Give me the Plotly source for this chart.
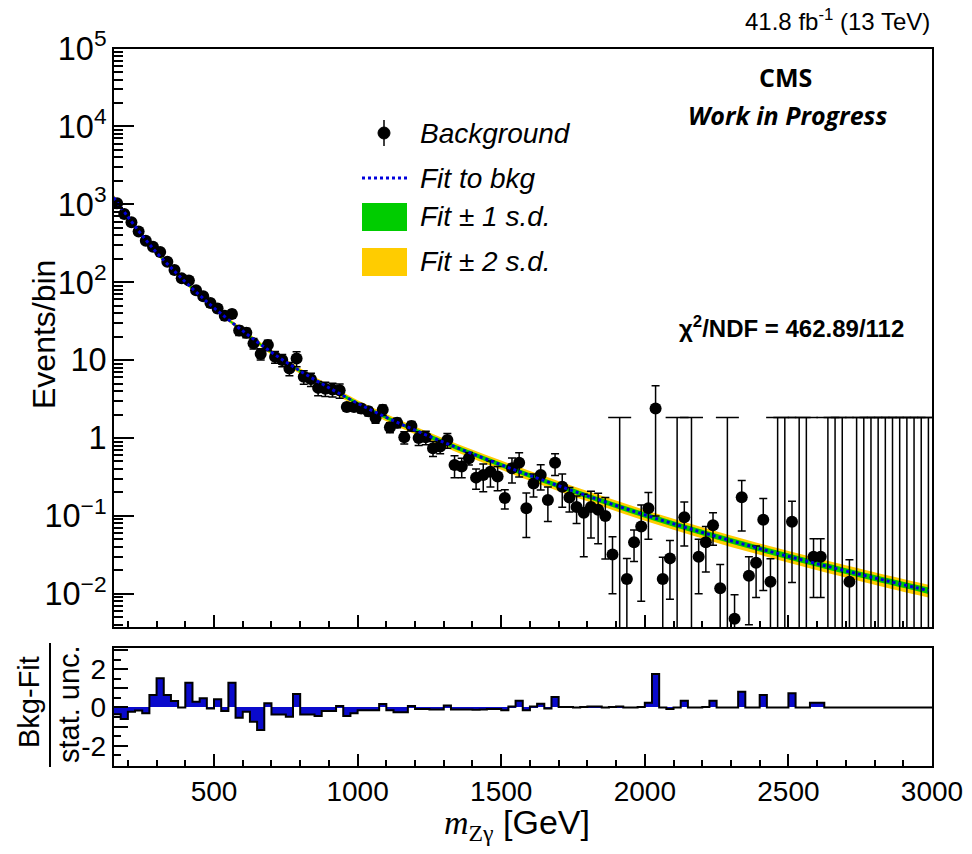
import plotly.graph_objects as go

W, H = 972, 854

# ---------------- data ----------------
bin_low, bin_high, bin_width = 150, 3000, 25
n_bins = (bin_high - bin_low) // bin_width
bin_edges = [bin_low + bin_width * i for i in range(n_bins + 1)]
bin_centers = [e + bin_width / 2 for e in bin_edges[:-1]]

events = [
    1030, 750, 590, 448, 340, 286, 245, 183, 143, 112,
    105, 79, 66, 54, 46, 37, 39, 24, 22.5, 16.4,
    12, 15.6, 11, 10, 7.8, 10.5, 6.1, 5.7, 4.4, 4.3,
    4.2, 4.1, 2.5, 2.5, 2.4, 2.2, 1.8, 2.3, 1.37, 1.57,
    1.02, 1.43, 1.0, 1.02, 0.74, 0.78, 0.94, 0.45, 0.43, 0.55,
    0.31, 0.335, 0.37, 0.32, 0.17, 0.41, 0.48, 0.125, 0.26, 0.335,
    0.16, 0.48, 0.237, 0.172, 0.13, 0.11, 0.13, 0.12, 0.10, 0.032,
    0, 0.0155, 0.046, 0.073, 0.125, 2.4, 0.0155, 0.0285, 0, 0.096,
    0, 0.030, 0.046, 0.076, 0.0118, 0, 0.0048, 0.174, 0.017, 0.025,
    0.089, 0.0143, 0, 0, 0.084, 0, 0, 0.030, 0.030, 0,
    0, 0, 0.0143, 0, 0, 0, 0, 0, 0, 0,
    0, 0, 0, 0,
]

event_err = [
    30, 25, 22, 19, 16, 15, 14, 12, 10, 9,
    9, 7.5, 6.5, 5.8, 5.2, 4.4, 4.5, 3.3, 3.1, 2.5,
    2.0, 2.4, 1.9, 1.8, 1.5, 2.3, 1.2, 1.1, 0.9, 0.9,
    0.85, 0.85, 0.3, 0.3, 0.3, 0.28, 0.25, 0.35, 0.2, 0.22,
    0.18, 0.2, 0.2, 0.2, 0.16, 0.15, 0.2, 0.14, 0.12, 0.1,
    0.09, 0.13, 0.135, 0.11, 0.047, 0.145, 0.165, 0.072, 0.085, 0.12,
    0.075, 0.15, 0.108, 0.06, 0.05, 0.08, 0.078, 0.076, 0.072, 0.022,
    0, 0.013, 0.02, 0.065, 0.075, 2.3, 0.014, 0.02, 0, 0.055,
    0, 0.02, 0.027, 0.034, 0.012, 0, 0.0049, 0.11, 0.013, 0.016,
    0.078, 0.0138, 0, 0, 0.07, 0, 0, 0.021, 0.021, 0,
    0, 0, 0.013, 0, 0, 0, 0, 0, 0, 0,
    0, 0, 0, 0,
]

zero_bin_upper = 1.84

pulls = [
    -0.35, -0.6, -0.22, -0.16, -0.3, 0.65, 1.52, 0.65, 0.34, 0.0,
    1.29, 0.3, 0.48, -0.05, 0.43, -0.18, 1.29, -0.53, -0.22, -0.74,
    -1.17, 0.22, -0.36, -0.36, -0.48, 0.7, -0.36, -0.36, -0.44, -0.18,
    -0.18, 0.08, -0.44, -0.3, -0.15, -0.15, -0.15, 0.18, -0.15, -0.25,
    -0.25, 0.08, -0.08, -0.08, -0.1, -0.1, 0.1, -0.1, -0.1, -0.1,
    -0.12, -0.1, -0.08, -0.08, -0.15, 0.05, 0.35, -0.15, 0.05, 0.2,
    -0.05, 0.55, 0.02, 0.02, 0.0, 0.02, 0.05, 0.05, 0.0, 0.02,
    0.05, 0.0, 0.0, 0.02, 0.25, 1.75, 0.0, -0.08, 0.0, 0.35,
    0.0, 0.0, 0.02, 0.35, 0.0, 0.0, 0.0, 0.82, 0.0, 0.0,
    0.65, 0.0, 0.0, 0.0, 0.74, 0.0, 0.0, 0.25, 0.25, 0.0,
    0, 0, 0, 0, 0, 0, 0, 0, 0, 0,
    0, 0, 0, 0,
]

fit_mass = [150, 200, 250, 300, 350, 400, 450, 500, 600, 700, 800, 900, 1000,
            1100, 1200, 1300, 1400, 1500, 1600, 1800, 2000, 2200, 2400, 2600,
            2800, 2987.5]
fit_val = [1230, 692, 398, 240, 154, 101, 68, 46.8, 23.7, 12.6, 7.24, 4.42, 2.79,
           1.84, 1.26, 0.881, 0.627, 0.452, 0.33, 0.181, 0.103, 0.0614, 0.038,
           0.0243, 0.016, 0.011]
fit_rel_1sd = [0.045, 0.038, 0.033, 0.03, 0.03, 0.03, 0.03, 0.03, 0.033, 0.037,
               0.041, 0.045, 0.049, 0.053, 0.057, 0.061, 0.065, 0.068, 0.071,
               0.075, 0.078, 0.081, 0.084, 0.087, 0.09, 0.093]

# ---------------- styling ----------------
GREEN = "#00cc00"
YELLOW = "#ffcc00"
FITBLUE = "#0000dd"
HISTBLUE = "#0a0acc"
SANS = "Liberation Sans"


def px(x):
    return x / W


def py(y):
    return 1 - y / H


fig = go.Figure()

band2_up = [v * (1 + 2 * r) for v, r in zip(fit_val, fit_rel_1sd)]
band2_dn = [v * (1 - 2 * r) for v, r in zip(fit_val, fit_rel_1sd)]
band1_up = [v * (1 + r) for v, r in zip(fit_val, fit_rel_1sd)]
band1_dn = [v * (1 - r) for v, r in zip(fit_val, fit_rel_1sd)]

fig.add_trace(go.Scatter(x=fit_mass, y=band2_up, mode="lines", line=dict(width=0, shape="spline"),
                         showlegend=False, hoverinfo="skip"))
fig.add_trace(go.Scatter(x=fit_mass, y=band2_dn, mode="lines", line=dict(width=0, shape="spline"),
                         fill="tonexty", fillcolor=YELLOW, showlegend=False, hoverinfo="skip"))
fig.add_trace(go.Scatter(x=fit_mass, y=band1_up, mode="lines", line=dict(width=0, shape="spline"),
                         showlegend=False, hoverinfo="skip"))
fig.add_trace(go.Scatter(x=fit_mass, y=band1_dn, mode="lines", line=dict(width=0, shape="spline"),
                         fill="tonexty", fillcolor=GREEN, showlegend=False, hoverinfo="skip"))

# zero-count bins: only the upper error bar is visible
zx = [c for c, v in zip(bin_centers, events) if v == 0]
fig.add_trace(go.Scatter(
    x=zx, y=[zero_bin_upper] * len(zx), mode="markers",
    marker=dict(size=1, color="rgba(0,0,0,0)"),
    error_y=dict(type="data", symmetric=False, array=[0] * len(zx),
                 arrayminus=[zero_bin_upper] * len(zx),
                 color="black", thickness=1.5, width=11.5),
    showlegend=False, hoverinfo="skip"))

nx = [c for c, v in zip(bin_centers, events) if v > 0]
ny = [v for v in events if v > 0]
ne = [e for e, v in zip(event_err, events) if v > 0]
fig.add_trace(go.Scatter(
    x=nx, y=ny, mode="markers",
    marker=dict(size=12, color="black", symbol="circle"),
    error_y=dict(type="data", array=ne, color="black", thickness=1.5, width=4),
    showlegend=False, name="Background"))

fig.add_trace(go.Scatter(x=fit_mass, y=fit_val, mode="lines",
                         line=dict(color=FITBLUE, width=3, dash="dot", shape="spline"),
                         showlegend=False, name="Fit to bkg"))

# lower panel
fig.add_trace(go.Bar(x=bin_centers, y=pulls, width=bin_width, marker=dict(color=HISTBLUE, line=dict(width=0)),
                     xaxis="x2", yaxis="y2", showlegend=False))
fig.add_trace(go.Scatter(x=bin_edges, y=pulls + [pulls[-1]], mode="lines",
                         line=dict(color="black", width=2, shape="hv"),
                         xaxis="x2", yaxis="y2", showlegend=False))

xdom = [px(113.5), px(932)]
axis_common = dict(showline=True, linecolor="black", linewidth=1.5, mirror=True,
                   showgrid=False, zeroline=False, ticks="inside", tickcolor="black",
                   tickwidth=1.5, automargin=False)

fig.update_layout(
    width=W, height=H, autosize=False,
    margin=dict(l=0, r=0, t=0, b=0, pad=0, autoexpand=False),
    paper_bgcolor="white", plot_bgcolor="white",
    font=dict(family=SANS, color="black"),
    bargap=0, showlegend=False,
    xaxis=dict(domain=xdom, anchor="y", range=[bin_low, bin_high], dtick=500, tick0=0,
               ticklen=12, showticklabels=False,
               minor=dict(ticks="inside", ticklen=6, dtick=100, tick0=0, tickcolor="black",
                          tickwidth=1.5, showgrid=False),
               **axis_common),
    yaxis=dict(domain=[py(627), py(48.5)], anchor="x", type="log", range=[-2.426, 5], dtick=1,
               ticklen=21, exponentformat="power", tickfont=dict(size=26, family=SANS),
               minor=dict(ticks="inside", ticklen=10, dtick="D1", tickcolor="black",
                          tickwidth=1.5, showgrid=False),
               **axis_common),
    xaxis2=dict(domain=xdom, anchor="y2", range=[bin_low, bin_high], dtick=500, tick0=0,
                ticklen=12, tickfont=dict(size=28, family=SANS),
                minor=dict(ticks="inside", ticklen=6, dtick=100, tick0=0, tickcolor="black",
                           tickwidth=1.5, showgrid=False),
                **axis_common),
    yaxis2=dict(domain=[py(766), py(648)], anchor="x2", range=[-3.05, 3.1],
                tickmode="array", tickvals=[-3, -2, -1, 0, 1, 2, 3],
                ticktext=["", "-2", "", "0", "", "2", ""], ticklen=15,
                tickfont=dict(size=28, family=SANS),
                minor=dict(ticks="inside", ticklen=8, dtick=0.5, tick0=0, tickcolor="black",
                           tickwidth=1.5, showgrid=False),
                **axis_common),
)

ann = []
ann.append(dict(x=px(932), y=py(20), xref="paper", yref="paper", xanchor="right", yanchor="middle",
                text="41.8 fb<sup>-1</sup> (13 TeV)", showarrow=False, font=dict(size=24, family=SANS)))
ann.append(dict(x=px(785), y=py(77), xref="paper", yref="paper", xanchor="center", yanchor="middle",
                text="<b>CMS</b>", showarrow=False, font=dict(size=25, family="Open Sans")))
ann.append(dict(x=px(787), y=py(115), xref="paper", yref="paper", xanchor="center", yanchor="middle",
                text="<b><i>Work in Progress</i></b>", showarrow=False, font=dict(size=25, family="Open Sans")))
ann.append(dict(x=px(791), y=py(327), xref="paper", yref="paper", xanchor="center", yanchor="middle",
                text="<b>χ<sup>2</sup>/NDF = 462.89/112</b>", showarrow=False, font=dict(size=24, family=SANS)))
ann.append(dict(x=px(44), y=py(335), xref="paper", yref="paper", xanchor="center", yanchor="middle",
                text="Events/bin", textangle=-90, showarrow=False, font=dict(size=32, family=SANS)))
ann.append(dict(x=px(29), y=py(702), xref="paper", yref="paper", xanchor="center", yanchor="middle",
                text="Bkg-Fit", textangle=-90, showarrow=False, font=dict(size=29, family=SANS)))
ann.append(dict(x=px(69), y=py(704), xref="paper", yref="paper", xanchor="center", yanchor="middle",
                text="stat. unc.", textangle=-90, showarrow=False, font=dict(size=29, family=SANS)))
ann.append(dict(x=px(517), y=py(824), xref="paper", yref="paper", xanchor="center", yanchor="middle",
                text="<span style=\"font-family:'Liberation Serif'\"><i>m</i><sub>Zγ</sub></span> [GeV]",
                showarrow=False, font=dict(size=34, family=SANS)))

legend_rows = [("Background", 133), ("Fit to bkg", 178), ("Fit ± 1 s.d.", 217), ("Fit ± 2 s.d.", 261)]
for label, yy in legend_rows:
    ann.append(dict(x=px(418), y=py(yy), xref="paper", yref="paper", xanchor="left", yanchor="middle",
                    text="<i>" + label + "</i>", showarrow=False, font=dict(size=28, family=SANS)))

shapes = []
shapes.append(dict(type="line", xref="paper", yref="paper", x0=px(50), x1=px(50), y0=py(643), y1=py(767),
                   line=dict(color="black", width=2)))
shapes.append(dict(type="line", xref="paper", yref="paper", x0=px(384), x1=px(384), y0=py(120), y1=py(146),
                   line=dict(color="black", width=1.5)))
shapes.append(dict(type="circle", xref="paper", yref="paper", x0=px(378), x1=px(390), y0=py(127), y1=py(139),
                   fillcolor="black", line=dict(color="black", width=1)))
shapes.append(dict(type="line", xref="paper", yref="paper", x0=px(362), x1=px(407), y0=py(178), y1=py(178),
                   line=dict(color=FITBLUE, width=3, dash="dot")))
shapes.append(dict(type="rect", xref="paper", yref="paper", x0=px(362), x1=px(407), y0=py(203), y1=py(231),
                   fillcolor=GREEN, line=dict(width=0)))
shapes.append(dict(type="rect", xref="paper", yref="paper", x0=px(362), x1=px(407), y0=py(248), y1=py(276),
                   fillcolor=YELLOW, line=dict(width=0)))

fig.update_layout(annotations=ann, shapes=shapes)

fig.write_html("out.html",
               config={"displayModeBar": False},
               post_script="document.body.style.margin='0';document.body.style.overflow='hidden';")
